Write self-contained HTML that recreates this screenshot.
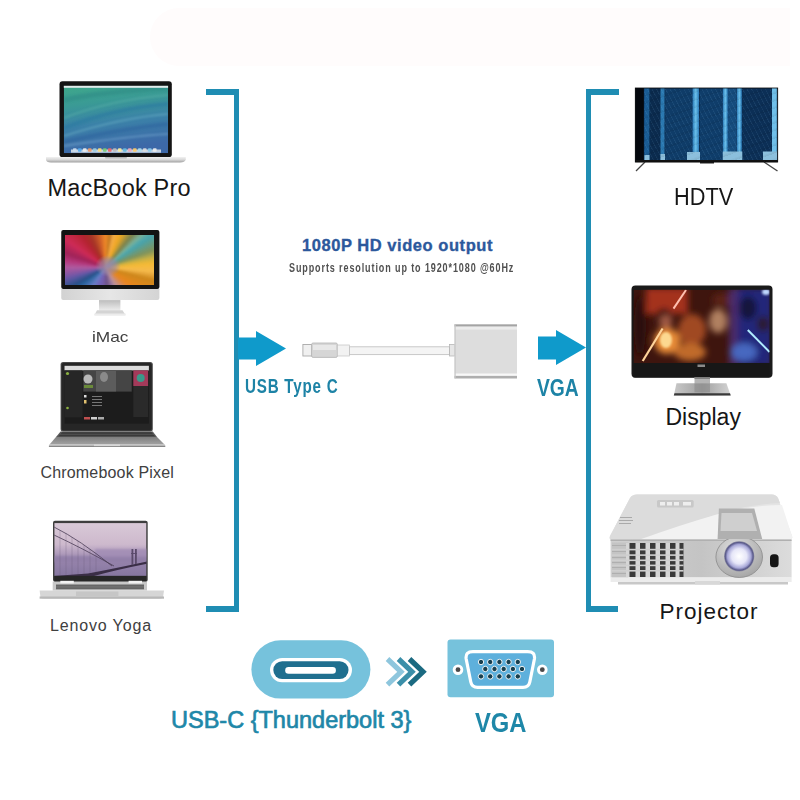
<!DOCTYPE html>
<html><head><meta charset="utf-8">
<style>
html,body{margin:0;padding:0;}
body{width:800px;height:800px;position:relative;overflow:hidden;background:#fff;font-family:"Liberation Sans",sans-serif;}
.a{position:absolute;}
.t{position:absolute;white-space:nowrap;line-height:1;}
.blue{background:#1f8db3;}
.lbl{color:#161616;}
.lbl2{color:#404040;}
</style></head>
<body>
<!-- faint background blobs -->


<div class="a" style="left:150px;top:8px;width:640px;height:58px;border-radius:30px 0 0 30px;background:#fffcfc;"></div>
<!-- left bracket -->
<div class="a blue" style="left:206px;top:89px;width:33px;height:6px;"></div>
<div class="a blue" style="left:234px;top:89px;width:5px;height:523px;"></div>
<div class="a blue" style="left:206px;top:606px;width:33px;height:6px;"></div>
<!-- left arrow -->
<svg class="a" style="left:0;top:0" width="800" height="800">
  <polygon fill="#0f9acb" points="238,337.4 256,337.4 256,331 286,348.5 256,366 256,359.5 238,359.5"/>
  <polygon fill="#0f9acb" points="538,336.5 556,336.5 556,330 586,347.5 556,365 556,359.5 538,359.5"/>
</svg>
<!-- right bracket -->
<div class="a blue" style="left:586px;top:89px;width:33px;height:6px;"></div>
<div class="a blue" style="left:586px;top:89px;width:4.5px;height:523px;"></div>
<div class="a blue" style="left:586px;top:606px;width:32px;height:6px;"></div>

<svg class="a" style="left:0;top:0" width="800" height="800" viewBox="0 0 800 800">
<defs>
  <linearGradient id="mbScr" x1="0" y1="0" x2="0.2" y2="1">
    <stop offset="0" stop-color="#3fa88a"/>
    <stop offset="0.3" stop-color="#3a9a95"/>
    <stop offset="0.6" stop-color="#3b82a8"/>
    <stop offset="1" stop-color="#3d68a8"/>
  </linearGradient>
  <linearGradient id="silver" x1="0" y1="0" x2="0" y2="1">
    <stop offset="0" stop-color="#f2f2f2"/>
    <stop offset="0.5" stop-color="#d8d8d8"/>
    <stop offset="1" stop-color="#a0a0a0"/>
  </linearGradient>
  <linearGradient id="chin" x1="0" y1="0" x2="1" y2="0">
    <stop offset="0" stop-color="#d2d2d2"/>
    <stop offset="0.5" stop-color="#e6e6e6"/>
    <stop offset="1" stop-color="#d4d4d4"/>
  </linearGradient>
  <linearGradient id="imNeck" x1="0" y1="0" x2="0" y2="1">
    <stop offset="0" stop-color="#bdbdbd"/>
    <stop offset="1" stop-color="#ededed"/>
  </linearGradient>
  <linearGradient id="yogaScr" x1="0" y1="0" x2="0" y2="1">
    <stop offset="0" stop-color="#d9c9d7"/>
    <stop offset="0.4" stop-color="#cdb9cd"/>
    <stop offset="0.6" stop-color="#ab97b9"/>
    <stop offset="0.75" stop-color="#9482aa"/>
    <stop offset="1" stop-color="#8676a0"/>
  </linearGradient>
  <linearGradient id="cbBase" x1="0" y1="0" x2="0" y2="1">
    <stop offset="0" stop-color="#3a3a3a"/>
    <stop offset="0.45" stop-color="#555"/>
    <stop offset="0.55" stop-color="#aaa"/>
    <stop offset="1" stop-color="#8a8a8a"/>
  </linearGradient>
  <linearGradient id="tvStripe" x1="0" y1="0" x2="1" y2="0">
    <stop offset="0" stop-color="#2a7ab8"/>
    <stop offset="0.5" stop-color="#6ac0ec"/>
    <stop offset="1" stop-color="#2a7ab8"/>
  </linearGradient>
  <linearGradient id="projTop" x1="0" y1="0" x2="1" y2="1">
    <stop offset="0" stop-color="#e2e2e2"/>
    <stop offset="1" stop-color="#d6d6d6"/>
  </linearGradient>
  <linearGradient id="projFront" x1="0" y1="0" x2="1" y2="0">
    <stop offset="0" stop-color="#d0d0d0"/>
    <stop offset="0.5" stop-color="#c4c4c4"/>
    <stop offset="1" stop-color="#dcdcdc"/>
  </linearGradient>
  <radialGradient id="lens" cx="0.5" cy="0.5" r="0.5">
    <stop offset="0" stop-color="#ffffff"/>
    <stop offset="0.5" stop-color="#e6e6f8"/>
    <stop offset="0.78" stop-color="#a8a8d8"/>
    <stop offset="0.92" stop-color="#5a5a8a"/>
    <stop offset="1" stop-color="#8a8aa0"/>
  </radialGradient>
  <radialGradient id="lensHouse" cx="0.4" cy="0.3" r="0.7">
    <stop offset="0" stop-color="#e0e0e0"/>
    <stop offset="1" stop-color="#a8a8a8"/>
  </radialGradient>
  <filter id="bl1" x="-50%" y="-50%" width="200%" height="200%"><feGaussianBlur stdDeviation="3"/></filter>
  <filter id="bl2" x="-50%" y="-50%" width="200%" height="200%"><feGaussianBlur stdDeviation="1.2"/></filter>
  <linearGradient id="dispFoot" x1="0" y1="0" x2="1" y2="0">
    <stop offset="0" stop-color="#c8c8c8"/>
    <stop offset="0.5" stop-color="#a0a0a0"/>
    <stop offset="1" stop-color="#d4d4d4"/>
  </linearGradient>
  <linearGradient id="cbPalm" x1="0" y1="0" x2="0" y2="1">
    <stop offset="0" stop-color="#7e7e7e"/>
    <stop offset="1" stop-color="#a2a2a2"/>
  </linearGradient>
  <clipPath id="cMb"><rect x="63.8" y="85.8" width="104.3" height="67.4"/></clipPath>
  <clipPath id="cImac"><rect x="65.2" y="234.8" width="89" height="50.4"/></clipPath>
  <clipPath id="cDisp"><rect x="633.5" y="289.7" width="136" height="73.3"/></clipPath>
  <clipPath id="cYoga"><rect x="54.25" y="523.1" width="92.25" height="52.8"/></clipPath>
</defs>

<!-- MacBook Pro -->
<rect x="59.5" y="81.2" width="112.3" height="76" rx="3" fill="#141414"/>
<g clip-path="url(#cMb)">
<rect x="63.8" y="85.8" width="104.3" height="67.4" fill="url(#mbScr)"/>
<g filter="url(#bl2)" opacity="0.55">
  <path d="M64,100 Q100,92 168,88" stroke="#2e8a86" stroke-width="5" fill="none"/>
  <path d="M64,118 Q110,100 168,95" stroke="#5ab0a8" stroke-width="2" fill="none"/>
  <path d="M64,128 Q115,108 168,104" stroke="#2a78a0" stroke-width="4" fill="none"/>
  <path d="M64,136 Q120,118 168,114" stroke="#6aaec4" stroke-width="2" fill="none"/>
  <path d="M64,142 Q125,128 168,124" stroke="#2d639e" stroke-width="4" fill="none"/>
  <path d="M64,146 Q130,136 168,134" stroke="#78a8d0" stroke-width="2" fill="none"/>
</g>
</g>
<rect x="63.8" y="85.8" width="104.3" height="2" fill="#e2ecec"/>
<rect x="71" y="149.5" width="90" height="3.2" fill="#dfe6ec" opacity="0.85"/>
<g opacity="0.9"><rect x="73" y="148.2" width="3.6" height="3.6" rx="0.8" fill="#cde"/><rect x="78" y="148.2" width="3.6" height="3.6" rx="0.8" fill="#5ae"/><rect x="83" y="148.2" width="3.6" height="3.6" rx="0.8" fill="#eee"/><rect x="88" y="148.2" width="3.6" height="3.6" rx="0.8" fill="#e96"/><rect x="93" y="148.2" width="3.6" height="3.6" rx="0.8" fill="#9cd"/><rect x="98" y="148.2" width="3.6" height="3.6" rx="0.8" fill="#fd7"/><rect x="103" y="148.2" width="3.6" height="3.6" rx="0.8" fill="#7c7"/><rect x="108" y="148.2" width="3.6" height="3.6" rx="0.8" fill="#e66"/><rect x="113" y="148.2" width="3.6" height="3.6" rx="0.8" fill="#bbb"/><rect x="118" y="148.2" width="3.6" height="3.6" rx="0.8" fill="#fe9"/><rect x="123" y="148.2" width="3.6" height="3.6" rx="0.8" fill="#6bd"/><rect x="128" y="148.2" width="3.6" height="3.6" rx="0.8" fill="#eab"/><rect x="133" y="148.2" width="3.6" height="3.6" rx="0.8" fill="#fc6"/><rect x="138" y="148.2" width="3.6" height="3.6" rx="0.8" fill="#ade"/><rect x="143" y="148.2" width="3.6" height="3.6" rx="0.8" fill="#ddd"/><rect x="148" y="148.2" width="3.6" height="3.6" rx="0.8" fill="#8ce"/><rect x="153" y="148.2" width="3.6" height="3.6" rx="0.8" fill="#eee"/></g>
<path d="M46,157 L185.8,157 L185.8,159.5 Q185,162.5 180,162.5 L51,162.5 Q46,162.5 46,159.5 Z" fill="url(#silver)"/>
<rect x="105" y="157" width="22" height="1.6" rx="0.8" fill="#b8b8b8"/>

<!-- iMac -->
<rect x="61.25" y="229.9" width="98.15" height="59.1" rx="2" fill="#131313"/>

<path d="M61.25,289 L159.4,289 L159.4,298 Q159.4,300.1 157.4,300.1 L63.25,300.1 Q61.25,300.1 61.25,298 Z" fill="url(#chin)"/>
<rect x="99" y="300.1" width="21.4" height="10.5" fill="url(#imNeck)"/>
<polygon points="97,310.3 122.5,310.3 125.6,315.3 94.4,315.3" fill="#d4d4d4"/>
<rect x="94.4" y="313.5" width="31.2" height="1.8" fill="#ececec"/>

<!-- Chromebook Pixel -->
<rect x="60.6" y="361.9" width="92.2" height="69.5" rx="2.5" fill="#4a4a4a"/>
<rect x="61.6" y="362.9" width="90.2" height="67.5" rx="2" fill="#262626"/>
<rect x="64.5" y="365.8" width="84.4" height="57.8" fill="#1c1c1c"/>
<rect x="64.5" y="365.8" width="84.4" height="4.6" fill="#dcdcdc"/>
<rect x="64.5" y="370.4" width="18" height="47" fill="#262626"/>
<rect x="83.3" y="370.4" width="48.4" height="21.2" fill="#454545"/>
<rect x="96" y="371" width="20" height="20.5" fill="#5c5c5c"/>
<ellipse cx="104" cy="377" rx="4" ry="5" fill="#8a8a8a"/>
<ellipse cx="88" cy="379" rx="4.5" ry="4.5" fill="#b8b8b8"/>
<rect x="84" y="385" width="9" height="3" fill="#6a8a3a"/>
<rect x="133.3" y="370.4" width="14.8" height="15.6" fill="#a33a5a"/>
<circle cx="140.7" cy="378" r="4" fill="#3a9a8a"/>
<rect x="133.3" y="386" width="14.8" height="31" fill="#2a2a2a"/>
<rect x="84" y="395" width="2.5" height="2.5" fill="#ddd"/>
<rect x="84" y="400" width="2.5" height="3.5" fill="#e0c070"/>
<g fill="#777"><rect x="92" y="396" width="10" height="1"/><rect x="92" y="399" width="10" height="1"/><rect x="92" y="402" width="10" height="1"/><rect x="92" y="405" width="10" height="1"/></g>
<rect x="84" y="417" width="6" height="2.5" fill="#c05050"/>
<rect x="91" y="417" width="6" height="2.5" fill="#d0d0d0"/>
<rect x="98" y="417" width="6" height="2.5" fill="#aaa"/>
<circle cx="67.5" cy="373.5" r="1.6" fill="#8ab040"/>
<circle cx="67.5" cy="408" r="1.3" fill="#8ab040"/>
<polygon points="60.6,431.4 152.8,431.4 157,437 56,437" fill="#5a5a5a"/>
<polygon points="62,432.3 151.5,432.3 155,436.3 58.5,436.3" fill="#3a3a3a"/>
<g stroke="#6a6a6a" stroke-width="0.5"><line x1="60" y1="434.3" x2="154" y2="434.3"/></g>
<polygon points="56,437 157,437 164.5,444.5 49.5,444.5" fill="url(#cbPalm)"/>
<rect x="48.9" y="444.5" width="116.4" height="2.3" rx="1" fill="#b8b8b8"/>
<rect x="48.9" y="446" width="116.4" height="0.8" fill="#777"/>
<rect x="94" y="444.3" width="26" height="1.8" fill="#d8d8d8"/>

<!-- Lenovo Yoga -->
<rect x="53" y="520.7" width="94.7" height="61" rx="2" fill="#3e3e3e"/>
<g clip-path="url(#cYoga)">
  <rect x="54.25" y="523.1" width="92.25" height="52.8" fill="url(#yogaScr)"/>
  <g filter="url(#bl2)">
    <rect x="54" y="556" width="95" height="6" fill="#8e7ca6" opacity="0.8"/>
    <rect x="95" y="549" width="55" height="8" fill="#a08cb4" opacity="0.8"/>
  </g>
  <path d="M54,527 Q80,540 112,566" stroke="#4a3c56" stroke-width="0.8" fill="none"/>
  <path d="M54,535 Q82,548 114,566" stroke="#4a3c56" stroke-width="0.8" fill="none"/>
  <g stroke="#6a5a78" stroke-width="0.4" opacity="0.7"><line x1="60" y1="530" x2="60" y2="575"/><line x1="66" y1="533" x2="66" y2="575"/><line x1="72" y1="537" x2="72" y2="575"/><line x1="78" y1="541" x2="78" y2="575"/><line x1="84" y1="545" x2="84" y2="575"/><line x1="90" y1="549" x2="90" y2="575"/><line x1="96" y1="553" x2="96" y2="575"/></g>
  <path d="M54,576 L88,573.5 Q112,569 140,563 L147,561.5 L147,563.8 Q118,569.5 94,576 Z" fill="#3a2e46"/>
  <rect x="131.5" y="549" width="1.8" height="16" fill="#5a4a6a"/>
  <rect x="135" y="549" width="1.8" height="15" fill="#5a4a6a"/>
  <rect x="131" y="553" width="6" height="0.9" fill="#5a4a6a"/>
</g>
<rect x="54.25" y="575.9" width="92.25" height="5.7" fill="#262626"/>


<rect x="52.7" y="581.6" width="94.3" height="9" fill="#c8c8c8"/>
<rect x="56" y="584.5" width="88" height="4.8" fill="#666"/>
<g stroke="#888" stroke-width="0.5"><line x1="56" y1="586.9" x2="144" y2="586.9"/></g>
<rect x="60.3" y="580.8" width="13.5" height="2.6" fill="#f2f2f2"/>
<rect x="128.6" y="580.8" width="13.4" height="2.6" fill="#f2f2f2"/>
<path d="M39.6,590.6 L164,590.6 L163,597.5 Q162,598.7 158,598.7 L45,598.7 Q41,598.7 40.5,597.5 Z" fill="#d6d6d6"/>
<rect x="39.6" y="596.5" width="124.4" height="2.2" fill="#b8b8b8"/>
<rect x="76" y="591.5" width="42.4" height="4.5" fill="#c6c6c6"/>

<!-- HDTV -->
<rect x="635.3" y="88" width="142.4" height="74" fill="#0b2e54"/>
<rect x="635.3" y="88" width="8.5" height="74" fill="#04080e"/>
<rect x="650.4" y="88" width="9.3" height="74" fill="#0b2b4e"/>
<rect x="665.2" y="88" width="27" height="74" fill="#0f3c68"/>
<rect x="700" y="88" width="22.5" height="74" fill="#0f3d6a"/>
<rect x="742.3" y="88" width="29.2" height="74" fill="#0c2f56"/>
<rect x="728" y="88" width="8.3" height="74" fill="#154c7e"/>
<rect x="644.3" y="88" width="5" height="74" fill="#1a5c94"/>
<rect x="660.5" y="88" width="4" height="74" fill="#2a78b0"/>
<rect x="692.5" y="88" width="6.5" height="74" fill="url(#tvStripe)"/>
<rect x="722.8" y="88" width="5" height="74" fill="url(#tvStripe)"/>
<rect x="736.8" y="88" width="5" height="74" fill="url(#tvStripe)"/>
<rect x="772" y="88" width="4.8" height="74" fill="#70c0ea"/>
<g fill="#8cbfdc">
<rect x="644.5" y="155" width="5" height="5"/>
<rect x="660.5" y="154" width="4.5" height="6"/>
<rect x="687" y="152" width="13" height="8"/>
<rect x="722.8" y="151.5" width="19.5" height="8.5"/>
<rect x="763" y="151.5" width="14" height="8.5"/>
</g>
<rect x="635.3" y="160" width="142.4" height="2.2" fill="#111"/>
<rect x="700" y="162" width="14" height="1.5" fill="#222"/>
<line x1="645" y1="162" x2="636" y2="171" stroke="#444" stroke-width="1.3"/>
<line x1="764" y1="162" x2="777.5" y2="171" stroke="#444" stroke-width="1.3"/>
<rect x="635.3" y="88" width="142.4" height="74" fill="none" stroke="#0a0a0a" stroke-width="0.8"/>

<!-- Display -->
<rect x="631.5" y="285.5" width="141" height="92.3" rx="4" fill="#1a1a1a"/>
<g clip-path="url(#cDisp)">
  <rect x="633.5" y="289.7" width="136" height="73.3" fill="#3e150e"/>
  <g filter="url(#bl1)">
    <rect x="646" y="288" width="42" height="26" fill="#a4301a"/>
    <ellipse cx="664" cy="318" rx="9" ry="10" fill="#4a1a12"/>
    <ellipse cx="666" cy="322" rx="6" ry="7" fill="#a05a44"/>
    <ellipse cx="667" cy="341" rx="13" ry="13" fill="#e88c38"/>
    <ellipse cx="692" cy="330" rx="14" ry="16" fill="#a04a22"/>
    <ellipse cx="690" cy="352" rx="16" ry="9" fill="#c06a2a"/>
    <ellipse cx="718" cy="321" rx="9" ry="12" fill="#b08060"/>
    <ellipse cx="722" cy="300" rx="10" ry="7" fill="#5a2218"/>
    <rect x="729" y="288" width="10" height="78" fill="#4a2a6a"/>
    <rect x="738" y="288" width="34" height="78" fill="#24287a"/>
    <ellipse cx="748" cy="308" rx="9" ry="12" fill="#14143e"/>
    <ellipse cx="744" cy="352" rx="13" ry="9" fill="#4668c0"/>
    <ellipse cx="763" cy="324" rx="6" ry="8" fill="#2a1a2a"/>
    <ellipse cx="640" cy="326" rx="6" ry="30" fill="#2a0c08"/>
  </g>
  <line x1="686" y1="290" x2="673.5" y2="308.6" stroke="#ffc0b0" stroke-width="2"/>
  <line x1="662.6" y1="328.5" x2="642.7" y2="361" stroke="#ffd49a" stroke-width="2.2"/>
  <ellipse cx="666" cy="340" rx="6" ry="8" fill="#fcd890" filter="url(#bl2)"/>
  <line x1="747.8" y1="330" x2="769.6" y2="352" stroke="#b0ecff" stroke-width="2"/>
  <ellipse cx="766" cy="292" rx="4" ry="3" fill="#c0d8ff" filter="url(#bl2)"/>
</g>
<rect x="633.5" y="363" width="136" height="14.3" fill="#171717"/>
<rect x="697.5" y="364.5" width="7.5" height="2.5" fill="#8a8a8a"/>
<rect x="694.5" y="377.3" width="15.5" height="6" fill="#b4b4b4"/>
<rect x="694.5" y="377.3" width="15.5" height="1.5" fill="#777"/>
<polygon points="676.5,383.2 726.4,383.2 730.7,395.4 673.8,395.4" fill="url(#dispFoot)"/>
<rect x="694.5" y="383.2" width="15.5" height="9" fill="#8a8a8a" opacity="0.6"/>
<polygon points="674.5,393.2 730,393.2 730.7,395.4 673.8,395.4" fill="#3a3a3a"/>

<!-- Projector -->
<path d="M637,494.4 L772,494.4 Q776,494.4 778,498 L792,536 Q793,539.5 790,539.5 L611,539.5 Q609,539.5 610,536 L630,498 Q632,494.4 637,494.4 Z" fill="#e4e4e4"/>
<path d="M637,494.4 L772,494.4 Q776,494.4 778,498 L780,503 Q740,505 700,520 Q670,532 640,539.5 L611,539.5 Q609,539.5 610,536 L630,498 Q632,494.4 637,494.4 Z" fill="#dcdcdc"/>
<path d="M640,539.5 Q680,525 715,515 Q750,505 782,505 L792,536 Q793,539.5 790,539.5 Z" fill="#f2f2f2"/>
<rect x="657" y="500" width="36.7" height="7.5" rx="1.5" fill="#c8c8c8"/>
<g fill="#eee"><rect x="660" y="502" width="5" height="3.5"/><rect x="667" y="502" width="5" height="3.5"/><rect x="674" y="502" width="5" height="3.5"/><rect x="683" y="502" width="8" height="3.5"/></g>
<rect x="620" y="517" width="12" height="1" fill="#aaa"/><rect x="619" y="520" width="14" height="1" fill="#aaa"/><rect x="619" y="523" width="12" height="1" fill="#aaa"/>
<rect x="610.6" y="539.5" width="181" height="38" fill="url(#projFront)"/>
<rect x="610.6" y="539.5" width="181" height="1.5" fill="#b0b0b0"/>
<rect x="612" y="542.5" width="16" height="35" fill="#c4c4c4"/>
<rect x="626" y="543" width="57.5" height="34" fill="#3a3a3a"/>
<g fill="#d6d6d6">
<rect x="626" y="543" width="3.5" height="34"/><rect x="635.5" y="543" width="4.5" height="34"/><rect x="645.5" y="543" width="4.5" height="34"/><rect x="655.5" y="543" width="4.5" height="34"/><rect x="665.5" y="543" width="4.5" height="34"/><rect x="675.5" y="543" width="4" height="34"/>
</g>
<g fill="#cfcfcf">
<rect x="612" y="548.8" width="71.5" height="1.6"/><rect x="612" y="554.3" width="71.5" height="1.6"/><rect x="612" y="559.5" width="71.5" height="1.6"/><rect x="612" y="564.6" width="71.5" height="1.6"/><rect x="612" y="570" width="71.5" height="1.6"/>
</g>
<g fill="#aaa"><rect x="612" y="545" width="14" height="0.8"/><rect x="612" y="551" width="14" height="0.8"/><rect x="612" y="557" width="14" height="0.8"/><rect x="612" y="562" width="14" height="0.8"/><rect x="612" y="567" width="14" height="0.8"/><rect x="612" y="573" width="14" height="0.8"/></g>
<rect x="610.6" y="577.5" width="181" height="4.5" fill="#ececec"/>
<rect x="618" y="582" width="170" height="2.5" fill="#9a9a9a" opacity="0.55"/>
<rect x="695" y="581" width="25" height="3.5" fill="#d8d8d8"/>
<ellipse cx="739.2" cy="557" rx="23.3" ry="20.5" fill="url(#lensHouse)" stroke="#8a8a8a" stroke-width="0.8"/>
<circle cx="739.2" cy="556.3" r="15.1" fill="url(#lens)"/>
<polygon points="718.9,508.4 754.3,508.4 762.2,539 717.6,539" fill="#b0b0b0"/>
<polygon points="721.5,513 752,513 757,531 720.5,531" fill="#cfcfcf"/>
<rect x="770" y="554.3" width="8.6" height="13" rx="3.5" fill="#151515"/>

<!-- Adapter -->
<rect x="302.9" y="344.5" width="9" height="11.5" fill="#f0f0f0" stroke="#a8a8a8" stroke-width="0.9"/>
<rect x="311.6" y="343" width="25.8" height="14.4" rx="1.5" fill="#d6d6d6" stroke="#b4b4b4" stroke-width="0.8"/>
<rect x="313" y="345" width="23" height="5" fill="#e8e8e8"/>
<rect x="337.4" y="345" width="12" height="11" fill="#f2f2f2" stroke="#c2c2c2" stroke-width="0.7"/>
<rect x="349.5" y="346.8" width="100" height="7.8" fill="#f4f4f4" stroke="#c4c4c4" stroke-width="0.9"/>
<rect x="449.6" y="344.5" width="5.2" height="11.5" fill="#e6e6e6" stroke="#b0b0b0" stroke-width="0.7"/>
<rect x="454.5" y="324.4" width="62.5" height="54" fill="#dddddd"/>
<rect x="454.5" y="324.4" width="62.5" height="2.2" fill="#a4a4a4"/>
<rect x="454.5" y="326.6" width="62.5" height="3" fill="#ececec"/>
<rect x="454.5" y="373.5" width="62.5" height="2.4" fill="#f8f8f8"/>
<rect x="454.5" y="375.9" width="62.5" height="2.5" fill="#aeaeae"/>
<rect x="454.5" y="324.4" width="1.2" height="54" fill="#c8c8c8"/>

<!-- USB-C icon -->
<rect x="251.4" y="640.2" width="119" height="58.4" rx="29.2" fill="#76c2dc"/>
<rect x="270" y="658" width="82" height="24.2" rx="12.1" fill="#ffffff"/>
<rect x="273.3" y="661.2" width="75.2" height="17.8" rx="8.9" fill="#1f6f8f"/>
<rect x="285.2" y="667.1" width="50.7" height="6.7" rx="3.3" fill="#ffffff"/>

<!-- Chevrons -->
<polyline points="387.5,659 401,671.8 387.5,684.6" fill="none" stroke="#8ec6dd" stroke-width="5.2"/>
<polyline points="398.5,659 412,671.8 398.5,684.6" fill="none" stroke="#3b8fa9" stroke-width="5.2"/>
<polyline points="409.5,659 423,671.8 409.5,684.6" fill="none" stroke="#1b6a81" stroke-width="5.2"/>

<!-- VGA icon -->
<rect x="447.5" y="639.4" width="106.5" height="57.8" rx="3" fill="#76c2dc"/>
<path d="M473,651.6 L527.6,651.6 Q535.5,651.6 534.4,659 L529.8,682 Q528.8,687.4 523,687.4 L477.6,687.4 Q471.8,687.4 470.8,682 L466.2,659 Q465.1,651.6 473,651.6 Z" fill="#5eb0dc" stroke="#ffffff" stroke-width="3.2"/>
<g fill="#173f4e" stroke="#ffffff" stroke-width="0.9">
<circle cx="481" cy="662" r="2.7"/><circle cx="490.2" cy="662" r="2.7"/><circle cx="499.4" cy="662" r="2.7"/><circle cx="508.6" cy="662" r="2.7"/><circle cx="517.8" cy="662" r="2.7"/>
<circle cx="485.3" cy="669" r="2.7"/><circle cx="494.5" cy="669" r="2.7"/><circle cx="503.7" cy="669" r="2.7"/><circle cx="512.9" cy="669" r="2.7"/><circle cx="522" cy="669" r="2.7"/>
<circle cx="481" cy="676.4" r="2.7"/><circle cx="490.2" cy="676.4" r="2.7"/><circle cx="499.4" cy="676.4" r="2.7"/><circle cx="508.6" cy="676.4" r="2.7"/><circle cx="517.8" cy="676.4" r="2.7"/>
</g>
<circle cx="458" cy="669.7" r="5.3" fill="#ffffff"/>
<circle cx="458" cy="669.7" r="2.4" fill="#4a4a4a"/>
<circle cx="542.3" cy="669.7" r="5.3" fill="#ffffff"/>
<circle cx="542.3" cy="669.7" r="2.4" fill="#4a4a4a"/>
</svg>

<!-- iMac screen -->
<div class="a" style="left:65.2px;top:234.8px;width:89px;height:50.4px;overflow:hidden;">
 <div class="a" style="left:-6px;top:-6px;width:101px;height:62px;filter:blur(1.5px);background:conic-gradient(from 0deg at 46% 62%, #f08a28 0deg, #f4b22a 28deg, #3aa6b4 55deg, #f4b422 85deg, #f08a1e 125deg, #9a70a0 160deg, #6a5ab4 200deg, #2a7ac8 235deg, #c42c7e 280deg, #d62a38 325deg, #f08a28 360deg);"></div>
 <div class="a" style="left:-6px;top:-6px;width:101px;height:62px;filter:blur(0.8px);background:conic-gradient(from 0deg at 46% 62%, rgba(0,0,0,0) 0deg, rgba(0,0,0,0.2) 8deg, rgba(255,255,255,0.15) 14deg, rgba(0,0,0,0) 22deg, rgba(0,0,0,0.25) 40deg, rgba(255,255,255,0.1) 48deg, rgba(0,0,0,0.15) 70deg, rgba(0,0,0,0) 78deg, rgba(255,255,255,0.2) 95deg, rgba(0,0,0,0.15) 105deg, rgba(0,0,0,0) 130deg, rgba(255,255,255,0.2) 150deg, rgba(0,0,0,0.2) 175deg, rgba(0,0,0,0) 190deg, rgba(255,255,255,0.15) 215deg, rgba(0,0,0,0.3) 240deg, rgba(0,0,0,0) 255deg, rgba(255,255,255,0.15) 270deg, rgba(0,0,0,0.2) 290deg, rgba(0,0,0,0) 305deg, rgba(0,0,0,0.25) 335deg, rgba(0,0,0,0) 360deg);"></div>
 <div class="a" style="left:30px;top:20px;width:26px;height:22px;border-radius:50%;background:radial-gradient(closest-side, #9a88a8 0%, rgba(154,136,168,0.6) 60%, rgba(154,136,168,0) 100%);"></div>
</div>
<!-- TV texture -->
<div class="a" style="left:644px;top:88.5px;width:133px;height:71.5px;opacity:0.5;background:repeating-linear-gradient(62deg, rgba(140,200,240,0.25) 0px, rgba(140,200,240,0) 1.2px, rgba(0,0,0,0) 4px), repeating-linear-gradient(-20deg, rgba(0,0,0,0.15) 0px, rgba(0,0,0,0) 3px, rgba(0,0,0,0) 7px);"></div>
<!-- texts -->
<div class="t lbl" style="left:47.5px;top:177px;font-size:23.5px;letter-spacing:0.2px;">MacBook Pro</div>
<div class="t lbl2" style="left:91.5px;top:329.3px;font-size:15px;letter-spacing:0px;transform:scaleX(1.15);transform-origin:0 0;">iMac</div>
<div class="t lbl2" style="left:40.5px;top:465px;font-size:16px;letter-spacing:0.17px;">Chromebook Pixel</div>
<div class="t lbl2" style="left:50px;top:618px;font-size:16px;letter-spacing:0.85px;">Lenovo Yoga</div>
<div class="t lbl" style="left:673.5px;top:186px;font-size:23.5px;transform:scaleX(0.925);transform-origin:0 0;">HDTV</div>
<div class="t lbl" style="left:665.5px;top:405.5px;font-size:23px;">Display</div>
<div class="t lbl" style="left:659.5px;top:600.5px;font-size:22.5px;letter-spacing:1px;">Projector</div>

<div class="t" style="left:302px;top:236.5px;font-size:16.5px;font-weight:bold;color:#2c589c;letter-spacing:0.55px;-webkit-text-stroke:0.35px #2c589c;">1080P HD video output</div>
<div class="t" style="left:289px;top:261.5px;font-size:12px;font-weight:bold;color:#505050;letter-spacing:1.2px;transform:scaleX(0.75);transform-origin:0 0;">Supports resolution up to 1920*1080 @60Hz</div>
<div class="t" style="left:245px;top:376px;font-size:20px;font-weight:bold;letter-spacing:1px;color:#1d83a6;transform:scaleX(0.76);transform-origin:0 0;">USB Type C</div>
<div class="t" style="left:537px;top:376.5px;font-size:23.5px;font-weight:bold;color:#1d83a6;transform:scaleX(0.82);transform-origin:0 0;">VGA</div>
<div class="t" style="left:171px;top:709px;font-size:23.5px;color:#1e87a8;-webkit-text-stroke:0.7px #1e87a8;transform:scaleX(1.0);transform-origin:0 0;">USB-C {Thunderbolt 3}</div>
<div class="t" style="left:475px;top:709.5px;font-size:27px;font-weight:bold;color:#1e87a8;transform:scaleX(0.88);transform-origin:0 0;">VGA</div>

</body></html>
